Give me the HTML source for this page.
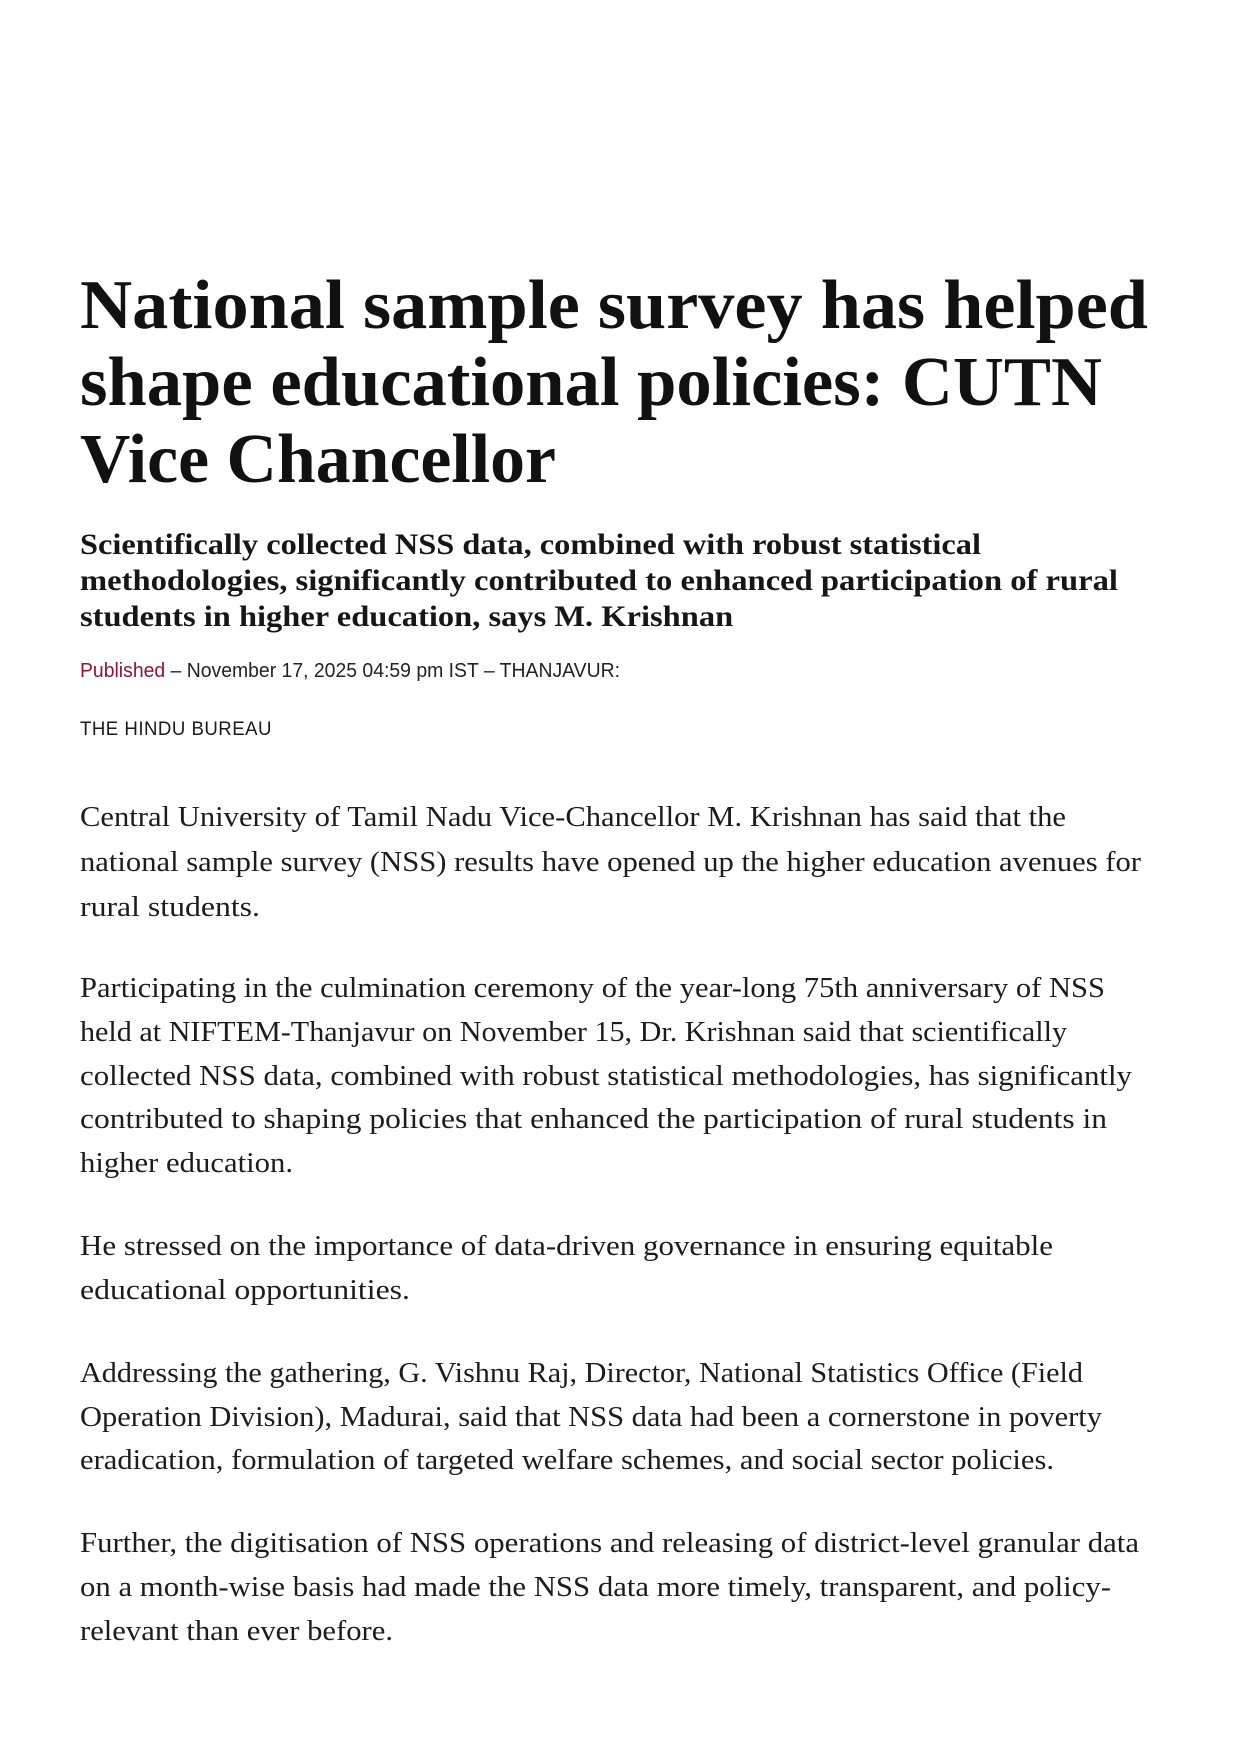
<!DOCTYPE html>
<html>
<head>
<meta charset="utf-8">
<style>
  html, body { margin:0; padding:0; background:#ffffff; }
  body { width:1240px; height:1755px; position:relative; overflow:hidden; }
  .l { position:absolute; left:80px; white-space:nowrap; line-height:1; transform-origin:0 0; color:#141414; }
  .t { font-family:"Liberation Serif", serif; font-weight:bold; font-size:70px; color:#111; }
  .s { font-family:"Liberation Serif", serif; font-weight:bold; font-size:30px; color:#161616; }
  .m { font-family:"Liberation Sans", sans-serif; font-size:20px; color:#222; }
  .m .pub { color:#8a1538; }
  .a { font-family:"Liberation Sans", sans-serif; font-size:19px; color:#1a1a1a; letter-spacing:0.5px; }
  .b { font-family:"Liberation Serif", serif; font-size:28px; color:#1c1c1c; }
</style>
</head>
<body>
<div class="l t" style="top:271px">National sample survey has helped</div>
<div class="l t" style="top:348px">shape educational policies: CUTN</div>
<div class="l t" style="top:425px">Vice Chancellor</div>

<div class="l s" style="top:530px">Scientifically collected NSS data, combined with robust statistical</div>
<div class="l s" style="top:566px">methodologies, significantly contributed to enhanced participation of rural</div>
<div class="l s" style="top:602px">students in higher education, says M. Krishnan</div>

<div class="l m" style="top:661px"><span class="pub">Published</span> – November 17, 2025 04:59 pm IST – THANJAVUR:</div>
<div class="l a" style="top:720px">THE HINDU BUREAU</div>

<div class="l b" style="top:804px">Central University of Tamil Nadu Vice-Chancellor M. Krishnan has said that the</div>
<div class="l b" style="top:849px">national sample survey (NSS) results have opened up the higher education avenues for</div>
<div class="l b" style="top:894px">rural students.</div>

<div class="l b" style="top:975px">Participating in the culmination ceremony of the year-long 75th anniversary of NSS</div>
<div class="l b" style="top:1019px">held at NIFTEM-Thanjavur on November 15, Dr. Krishnan said that scientifically</div>
<div class="l b" style="top:1063px">collected NSS data, combined with robust statistical methodologies, has significantly</div>
<div class="l b" style="top:1106px">contributed to shaping policies that enhanced the participation of rural students in</div>
<div class="l b" style="top:1150px">higher education.</div>

<div class="l b" style="top:1233px">He stressed on the importance of data-driven governance in ensuring equitable</div>
<div class="l b" style="top:1277px">educational opportunities.</div>

<div class="l b" style="top:1360px">Addressing the gathering, G. Vishnu Raj, Director, National Statistics Office (Field</div>
<div class="l b" style="top:1404px">Operation Division), Madurai, said that NSS data had been a cornerstone in poverty</div>
<div class="l b" style="top:1447px">eradication, formulation of targeted welfare schemes, and social sector policies.</div>

<div class="l b" style="top:1530px">Further, the digitisation of NSS operations and releasing of district-level granular data</div>
<div class="l b" style="top:1574px">on a month-wise basis had made the NSS data more timely, transparent, and policy-</div>
<div class="l b" style="top:1618px">relevant than ever before.</div>

<script>
(function(){
  var targets = [
    1068, 1022, 476,
    901, 1038, null,
    540,
    192,
    986, 1061, 180,
    1025, 987, 1052, 1027, 213,
    973, 330,
    1003, 1022, 974,
    1059, 1031, 313
  ];
  var groups = [
    [0,1,2],[3,4,5],[6],[7],
    [8,9,10,11,12,13,14,15,16,17,18,19,20,21,22,23]
  ];
  var els = document.querySelectorAll('.l');
  var scales = [];
  for (var i=0;i<els.length;i++){
    var w = els[i].getBoundingClientRect().width;
    scales[i] = (targets[i] && w>0) ? targets[i]/w : null;
  }
  groups.forEach(function(g){
    var sum=0,n=0;
    g.forEach(function(i){ if(scales[i]!==null){sum+=scales[i];n++;} });
    var avg = n? sum/n : 1;
    g.forEach(function(i){
      var s = scales[i]!==null ? scales[i] : avg;
      if (s>1.4) s=1.4; if (s<0.7) s=0.7;
      els[i].style.transform = 'scaleX('+s+')';
    });
  });
})();
</script>
</body>
</html>
